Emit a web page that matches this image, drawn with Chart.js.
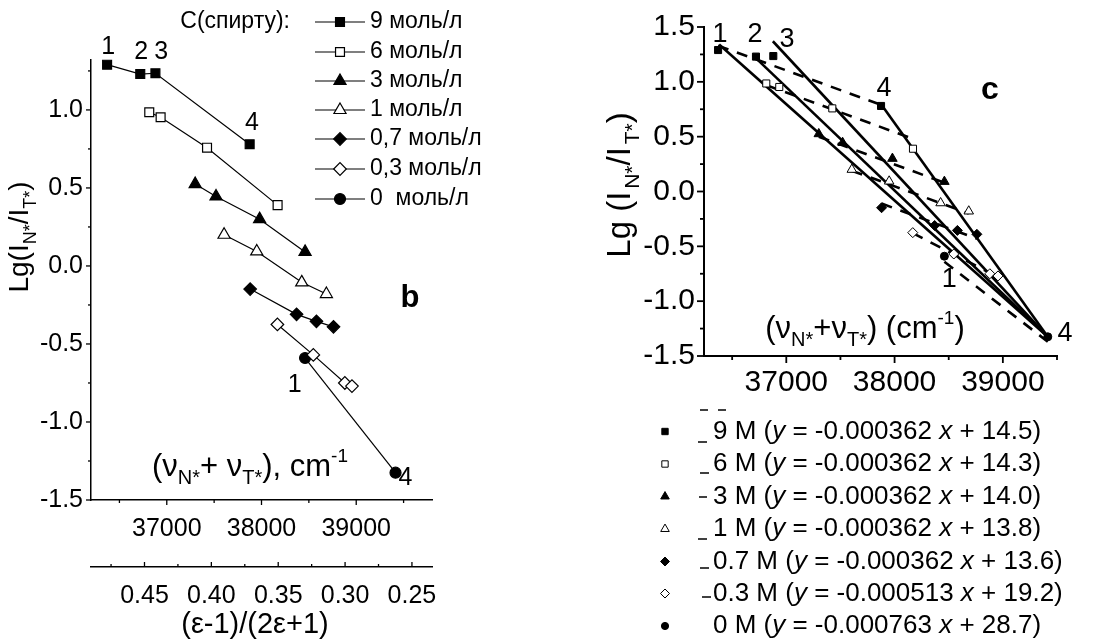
<!DOCTYPE html>
<html>
<head>
<meta charset="utf-8">
<style>
  body { margin: 0; background: #fff; }
  #wrapB { position: absolute; left: 0; top: 0; width: 550px; height: 643px; }
  #wrapC { position: absolute; left: 550px; top: 0; width: 554px; height: 643px; }
</style>
</head>
<body>
<div id="wrapB"><canvas id="chartB"></canvas></div>
<div id="wrapC"><canvas id="chartC"></canvas></div>

<script src="https://cdn.jsdelivr.net/npm/chart.js"></script>
<script>
// ---- data: x = nu(N*) + nu(T*), cm-1 ; y = Lg(IN*/IT*)
const concNames = ['9 моль/л', '6 моль/л', '3 моль/л', '1 моль/л', '0,7 моль/л', '0,3 моль/л', '0  моль/л'];
const concM = ['9', '6', '3', '1', '0.7', '0.3', '0'];

const nu9 = [36370, 36720, 36880, 37875];
const lg9 = [1.29, 1.23, 1.235, 0.78];
const nu6 = [36815, 36935, 37425, 38170];
const lg6 = [0.985, 0.953, 0.758, 0.39];
const nu3 = [37300, 37520, 37980, 38460];
const lg3 = [0.525, 0.445, 0.30, 0.09];
const nu1 = [37605, 37950, 38425, 38685];
const lg1 = [0.20, 0.093, -0.105, -0.18];
const nu07 = [37880, 38370, 38580, 38760];
const lg07 = [-0.148, -0.31, -0.355, -0.39];
const nu03 = [38168, 38547, 38880, 38955];
const lg03 = [-0.375, -0.57, -0.75, -0.77];
const nu0 = [38460, 39415];
const lg0 = [-0.59, -1.325];

// fitted (dashed) lines of panel c, end points
const fitX = [[36370, 37875], [36815, 38170], [37300, 38460], [37605, 38685], [37880, 38760], [38168, 38955], [38460, 39415]];
const fitY = [[1.33, 0.79], [0.97, 0.48], [0.50, 0.08], [0.19, -0.20], [-0.11, -0.43], [-0.38, -0.78], [-0.64, -1.37]];
const fitSlope = ['-0.000362', '-0.000362', '-0.000362', '-0.000362', '-0.000362', '-0.000513', '-0.000763'];
const fitIntercept = ['14.5', '14.3', '14.0', '13.8', '13.6', '19.2', '28.7'];

// solid lines 1..4 of panel c, end points
const solidX = [[36380, 39415], [36690, 39415], [36876, 39415], [37869, 39415]];
const solidY = [[1.34, -1.325], [1.243, -1.325], [1.37, -1.325], [0.805, -1.325]];

// number labels (data coordinates)
const labelsB = [['1', 36382, 1.405], ['2', 36730, 1.373], ['3', 36940, 1.373], ['4', 37898, 0.916], ['1', 38351, -0.766], ['4', 39519, -1.357]];
const labelsC = [['1', 36388, 1.434], ['2', 36712, 1.434], ['3', 37006, 1.39], ['4', 37902, 0.94], ['1', 38505, -0.80], ['4', 39573, -1.295]];

// ticks
const yMajor = [-1.5, -1.0, -0.5, 0.0, 0.5, 1.0, 1.5];
const yMinor = [-1.25, -0.75, -0.25, 0.25, 0.75, 1.25];
const xMajor = [37000, 38000, 39000];
const xMinor = [36500, 37500, 38500, 39500];
const epsMajor = [0.45, 0.40, 0.35, 0.30, 0.25];
const epsMinor = [0.475, 0.425, 0.375, 0.325, 0.275];

const FONT = '"Liberation Sans", Arial, sans-serif';
const styles = ['rect', 'rect', 'triangle', 'triangle', 'rectRot', 'rectRot', 'circle'];
const filled = [true, false, true, false, true, false, true];
const radB = { rect: 6.3, triangle: 7, rectRot: 6.3, circle: 5.5 };
const radC = { rect: 5, triangle: 5.5, rectRot: 5, circle: 4 };

const nuAll = [nu9, nu6, nu3, nu1, nu07, nu03, nu0];
const lgAll = [lg9, lg6, lg3, lg1, lg07, lg03, lg0];
function pts(xs, ys) { return xs.map((v, i) => ({ x: v, y: ys[i] })); }
function setTicks(list) { return s => { s.ticks = list.map(v => ({ value: v })); }; }

function marker(ctx, style, fill, x, y, r, lw) {
  ctx.beginPath();
  if (style === 'rect') {
    const s = r * Math.SQRT1_2;
    ctx.rect(x - s, y - s, 2 * s, 2 * s);
  } else if (style === 'triangle') {
    for (let k = 0; k < 3; k++) {
      const a = k * 2 * Math.PI / 3;
      const px = x + Math.sin(a) * r, py = y - Math.cos(a) * r;
      if (k) ctx.lineTo(px, py); else ctx.moveTo(px, py);
    }
    ctx.closePath();
  } else if (style === 'rectRot') {
    ctx.moveTo(x - r, y); ctx.lineTo(x, y - r); ctx.lineTo(x + r, y); ctx.lineTo(x, y + r);
    ctx.closePath();
  } else {
    ctx.arc(x, y, r, 0, Math.PI * 2);
  }
  ctx.fillStyle = fill ? '#000' : '#fff';
  ctx.fill();
  ctx.lineWidth = lw; ctx.strokeStyle = '#000';
  ctx.stroke();
}

// parts: [text, size, dy, italic, bold]
function rich(ctx, x, y, parts, align) {
  const f = p => (p[3] ? 'italic ' : '') + (p[4] ? 'bold ' : '') + p[1] + 'px ' + FONT;
  let w = 0;
  parts.forEach(p => { ctx.font = f(p); w += ctx.measureText(p[0]).width; });
  let cx = align === 'center' ? x - w / 2 : align === 'right' ? x - w : x;
  ctx.textAlign = 'left';
  parts.forEach(p => {
    ctx.font = f(p);
    ctx.fillText(p[0], cx, y + (p[2] || 0));
    cx += ctx.measureText(p[0]).width;
  });
}

const tickMarks = {
  id: 'tickMarks',
  afterDraw(chart, args, opts) {
    const ctx = chart.ctx;
    ctx.save();
    ctx.strokeStyle = '#000';
    ctx.lineWidth = opts.width;
    opts.axes.forEach(a => {
      const sc = chart.scales[a.id];
      const draw = (v, len) => {
        const p = sc.getPixelForValue(v);
        ctx.beginPath();
        if (sc.isHorizontal()) {
          ctx.moveTo(p, sc.top); ctx.lineTo(p, sc.top + a.dir * len);
        } else {
          ctx.moveTo(sc.right, p); ctx.lineTo(sc.right - a.dir * len, p);
        }
        ctx.stroke();
      };
      a.major.forEach(v => draw(v, a.len[0]));
      a.minor.forEach(v => draw(v, a.len[1]));
    });
    ctx.restore();
  }
};

// ---------------- panel b ----------------
const panelB = {
  id: 'panelB',
  afterDraw(chart) {
    const ctx = chart.ctx, xs = chart.scales.x, ys = chart.scales.y;
    ctx.save();
    ctx.fillStyle = '#000';
    ctx.textBaseline = 'middle';
    ctx.textAlign = 'center';
    ctx.font = '25px ' + FONT;
    labelsB.forEach(l => ctx.fillText(l[0], xs.getPixelForValue(l[1]), ys.getPixelForValue(l[2])));
    ctx.font = 'bold 31px ' + FONT;
    ctx.fillText('b', 410, 298);

    // legend
    ctx.textAlign = 'right';
    ctx.font = '23px ' + FONT;
    ctx.fillText('С(спирту):', 290, 22);
    const rows = [22, 52, 81, 110, 139, 169, 199];
    concNames.forEach((n, i) => {
      ctx.strokeStyle = '#000'; ctx.lineWidth = 1.2;
      ctx.beginPath(); ctx.moveTo(315, rows[i]); ctx.lineTo(365, rows[i]); ctx.stroke();
      marker(ctx, styles[i], filled[i], 340, rows[i], radB[styles[i]], 1.2);
      ctx.fillStyle = '#000';
      ctx.textAlign = 'left';
      ctx.font = '23px ' + FONT;
      ctx.fillText(n, 370, rows[i]);
    });

    // titles
    ctx.textBaseline = 'alphabetic';
    rich(ctx, 250, 476, [['(ν', 31], ['N*', 20, 8], ['+ ν', 31], ['T*', 20, 8], ['), cm', 31], ['-1', 19, -14]], 'center');
    rich(ctx, 255, 633, [['(ε-1)/(2ε+1)', 29]], 'center');
    ctx.translate(28, 237);
    ctx.rotate(-Math.PI / 2);
    rich(ctx, 0, 0, [['Lg(I', 28], ['N*', 18, 8], ['/I', 28], ['T*', 18, 8], [')', 28]], 'center');
    ctx.restore();
  }
};

const axisFont = { size: 25, family: FONT };
new Chart(document.getElementById('chartB'), {
  type: 'scatter',
  data: {
    datasets: nuAll.map((xs, i) => ({
      label: concNames[i],
      data: pts(xs, lgAll[i]),
      showLine: true,
      borderColor: '#000',
      borderWidth: 1.2,
      pointStyle: styles[i],
      pointRadius: radB[styles[i]],
      pointBackgroundColor: filled[i] ? '#000' : '#fff',
      pointBorderColor: '#000',
      pointBorderWidth: 1.2,
      clip: false
    }))
  },
  options: {
    responsive: true,
    maintainAspectRatio: false,
    animation: false,
    events: [],
    layout: { padding: { left: 0, right: 118, top: 60, bottom: 0 } },
    plugins: {
      legend: { display: false },
      tooltip: { enabled: false },
      tickMarks: {
        width: 1.3,
        axes: [
          { id: 'y', major: yMajor.slice(0, 6), minor: yMinor, len: [5, 3], dir: 1 },
          { id: 'x', major: xMajor, minor: xMinor, len: [5, 3], dir: 1 },
          { id: 'x2', major: epsMajor, minor: epsMinor, len: [5, 3], dir: -1 }
        ]
      }
    },
    scales: {
      x: {
        type: 'linear', position: 'bottom', min: 36200, max: 39800,
        grid: { display: false, drawTicks: false },
        border: { display: true, color: '#000', width: 1.5 },
        ticks: { autoSkip: false, maxRotation: 0, padding: 14, color: '#000', font: axisFont,
          callback: v => String(v) },
        afterBuildTicks: setTicks(xMajor),
        afterFit: s => { s.height = 67; }
      },
      x2: {
        type: 'linear', position: 'bottom', reverse: true, min: 0.235, max: 0.49,
        grid: { display: false, drawTicks: false },
        border: { display: true, color: '#000', width: 1.5 },
        ticks: { autoSkip: false, maxRotation: 0, padding: 14, color: '#000', font: axisFont,
          callback: v => v.toFixed(2) },
        afterBuildTicks: setTicks(epsMajor),
        afterFit: s => { s.height = 76; }
      },
      y: {
        type: 'linear', min: -1.5, max: 1.32,
        grid: { display: false, drawTicks: false },
        border: { display: true, color: '#000', width: 1.5 },
        ticks: { autoSkip: false, padding: 8, color: '#000', font: axisFont,
          callback: v => v.toFixed(1) },
        afterBuildTicks: setTicks(yMajor.slice(0, 6)),
        afterFit: s => { s.width = 91; }
      }
    }
  },
  plugins: [tickMarks, panelB]
});

// ---------------- panel c ----------------
const legendDashes = [[150, 158, 410], [168, 176, 410], [148, 157, 442], [150, 159, 473], [149, 157, 497], [148, 157, 539], [150, 159, 568], [152, 161, 597]];

const panelC = {
  id: 'panelC',
  afterDraw(chart) {
    const ctx = chart.ctx, xs = chart.scales.x, ys = chart.scales.y;
    ctx.save();
    ctx.fillStyle = '#000';
    ctx.textBaseline = 'middle';
    ctx.textAlign = 'center';
    ctx.font = '27px ' + FONT;
    labelsC.forEach(l => ctx.fillText(l[0], xs.getPixelForValue(l[1]), ys.getPixelForValue(l[2])));
    ctx.font = 'bold 32px ' + FONT;
    ctx.fillText('c', 440, 90);

    // titles
    ctx.textBaseline = 'alphabetic';
    rich(ctx, 315, 338, [['(ν', 31], ['N*', 20, 8], ['+ν', 31], ['T*', 20, 8], [') (cm', 31], ['-1', 19, -14], [')', 31]], 'center');

    // legend of fits
    const rows = [431.5, 464, 496.5, 529, 561.5, 593.5, 626];
    ctx.textBaseline = 'middle';
    concM.forEach((m, i) => {
      marker(ctx, styles[i], filled[i], 115, rows[i], radC[styles[i]] * 0.9, 1);
      ctx.fillStyle = '#000';
      rich(ctx, 163, rows[i], [[m + ' M (', 26], ['y', 26, 0, true], [' = ' + fitSlope[i] + ' ', 26], ['x', 26, 0, true], [' + ' + fitIntercept[i] + ')', 26]], 'left');
    });
    ctx.strokeStyle = '#000'; ctx.lineWidth = 1.5;
    legendDashes.forEach(d => { ctx.beginPath(); ctx.moveTo(d[0], d[2]); ctx.lineTo(d[1], d[2]); ctx.stroke(); });

    // y title
    ctx.textBaseline = 'alphabetic';
    ctx.fillStyle = '#000';
    ctx.translate(80, 185);
    ctx.rotate(-Math.PI / 2);
    rich(ctx, 0, 0, [['Lg (', 33], ['I', 33], [' ', 10], ['N*', 21, 9], ['/', 33], ['I', 33], [' ', 10], ['T*', 21, 9], [')', 33]], 'center');
    ctx.restore();
  }
};

const axisFontC = { size: 30, family: FONT };
const pointSets = nuAll.map((xs, i) => ({
  data: pts(xs, lgAll[i]),
  showLine: false,
  pointStyle: styles[i],
  pointRadius: radC[styles[i]],
  pointBackgroundColor: filled[i] ? '#000' : '#fff',
  pointBorderColor: '#000',
  pointBorderWidth: 1,
  clip: false
}));
const solidSets = solidX.map((xs, i) => ({
  data: pts(xs, solidY[i]),
  showLine: true, borderColor: '#000', borderWidth: 2.6, pointRadius: 0, clip: false
}));
const dashSets = fitX.map((xs, i) => ({
  data: pts(xs, fitY[i]),
  showLine: true, borderColor: '#000', borderWidth: 2.6, borderDash: [11, 9], pointRadius: 0, clip: false
}));

new Chart(document.getElementById('chartC'), {
  type: 'scatter',
  data: { datasets: pointSets.concat(solidSets, dashSets) },
  options: {
    responsive: true,
    maintainAspectRatio: false,
    animation: false,
    events: [],
    layout: { padding: { left: 0, right: 47, top: 25, bottom: 0 } },
    plugins: {
      legend: { display: false },
      tooltip: { enabled: false },
      tickMarks: {
        width: 1.8,
        axes: [
          { id: 'y', major: yMajor, minor: yMinor, len: [7, 4], dir: 1 },
          { id: 'x', major: xMajor, minor: xMinor, len: [7, 4], dir: 1 }
        ]
      }
    },
    scales: {
      x: {
        type: 'linear', min: 36240, max: 39500,
        grid: { display: false, drawTicks: false },
        border: { display: true, color: '#000', width: 2 },
        ticks: { autoSkip: false, maxRotation: 0, padding: 9, color: '#000', font: axisFontC,
          callback: v => String(v) },
        afterBuildTicks: setTicks(xMajor),
        afterFit: s => { s.height = 287; }
      },
      y: {
        type: 'linear', min: -1.5, max: 1.5,
        grid: { display: false, drawTicks: false },
        border: { display: true, color: '#000', width: 2 },
        ticks: { autoSkip: false, padding: 9, color: '#000', font: axisFontC,
          callback: v => v.toFixed(1) },
        afterBuildTicks: setTicks(yMajor),
        afterFit: s => { s.width = 154; }
      }
    }
  },
  plugins: [tickMarks, panelC]
});
</script>
</body>
</html>
